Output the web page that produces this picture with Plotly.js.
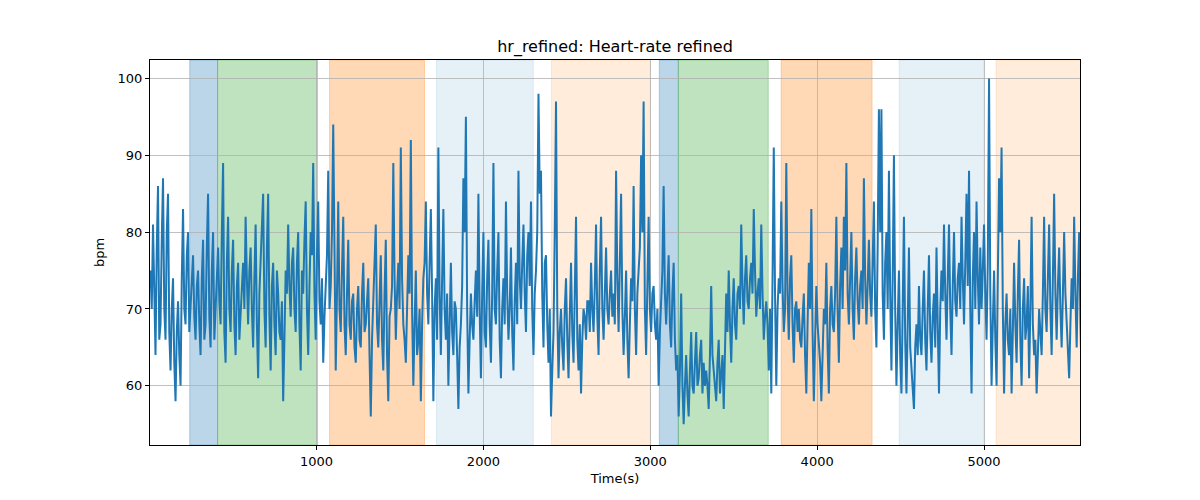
<!DOCTYPE html>
<html>
<head>
<meta charset="utf-8">
<script src="https://cdn.plot.ly/plotly-3.0.1.min.js"></script>
<style>html,body{margin:0;padding:0;background:#fff;}#chart{width:1200px;height:500px;}</style>
</head>
<body>
<div id="chart"></div>
<script>
// Heart-rate readings (bpm): local peaks/troughs every 15 s
const sampleStart = 5;
const sampleStep = 15;
const hrValues = [
75,81,64,86,68,87,66,85,62,74,58,71,60,83,68,80,70,77,66,75,64,79,68,85,65,80,70,78,68,89,63,82,67,79,64,76,70,
76,82,68,78,65,81,61,76,85,65,85,62,76,64,72,66,58,75,81,69,78,67,80,62,72,84,64,80,89,66,84,68,63,74,88,73,94,
62,84,67,82,64,79,66,72,63,73,65,76,68,74,56,71,81,65,77,62,79,58,70,89,66,76,91,68,63,77,92,60,75,66,58,74,84,
68,83,58,74,91,64,83,66,60,76,64,70,57,68,87,95,59,72,66,75,85,61,80,65,79,63,89,68,80,61,74,84,66,78,62,76,88,
70,81,67,80,84,64,75,98,88,65,77,63,56,67,97,61,70,62,74,61,76,63,82,62,59,70,66,71,76,67,81,64,82,66,78,68,75,
72,88,67,85,64,75,61,74,86,64,75,90,97,64,82,67,73,66,60,72,86,68,77,65,76,62,56,72,55,64,56,67,59,67,61,66,63,
62,57,73,62,58,66,61,57,72,75,63,74,66,73,81,68,77,70,76,83,69,74,81,66,71,62,59,91,60,74,84,67,89,66,77,63,71,
70,65,72,59,76,83,58,73,66,58,70,76,59,73,67,82,63,78,82,89,68,80,66,78,68,75,87,68,79,69,84,65,96,96,66,80,88,
62,90,60,75,59,82,59,78,62,57,68,73,64,75,62,77,63,72,78,59,75,81,66,81,64,80,69,76,82,68,85,88,59,80,84,68,
70,81,66,100,60,75,60,87,91,59,72,64,59,76,63,79,60,74,68,61,82,64,59,70,64,82,67,81,64,85,66,78,65,80,68,61,74,82,65,80,61
];
// Readings of the dense core band, half-way between the samples above
const hrMid = [
70,72,78,66,79,70,80,67,70,63,67,64,74,70,77,67,74,69,73,68,74,66,78,69,75,66,76,71,80,67,76,70,75,68,73,66,74,
70,74,75,70,74,68,72,79,70,78,69,73,68,75,67,71,66,72,73,76,70,76,68,75,79,70,73,77,72,77,71,74,69,77,70,80,75,
72,70,75,68,72,68,71,65,70,66,72,67,71,64,66,74,68,71,66,72,64,69,73,74,72,70,74,66,70,72,70,68,64,70,68,76,72,
76,72,70,66,72,74,70,72,68,67,71,64,65,73,80,70,66,68,71,69,70,72,67,74,68,72,70,75,66,70,68,72,70,67,71,68,74,
76,72,77,73,70,72,80,85,72,76,68,70,62,80,70,67,65,70,66,69,67,72,66,68,66,69,71,67,70,73,69,75,70,72,70,72,69,
68,74,76,70,69,66,68,71,70,72,78,80,70,75,70,72,68,70,67,75,72,73,68,72,66,64,62,60,60,59,62,60,63,60,64,59,60,
60,64,64,60,63,59,64,66,67,68,70,68,72,70,73,74,71,74,72,75,72,70,72,69,68,70,74,72,70,72,73,70,72,74,68,70,67,
66,69,64,68,70,67,66,68,63,66,68,65,70,68,72,70,73,70,75,72,74,70,74,71,73,70,74,73,72,76,70,78,80,72,76,70,72,
74,70,68,64,70,66,68,65,60,65,64,66,70,66,70,67,69,65,68,70,71,72,74,70,73,71,74,70,74,76,73,70,74,70,74,78,
75,72,76,72,68,66,74,80,70,68,66,70,67,68,72,66,70,66,73,70,68,66,64,67,72,70,74,70,74,72,73,70,72,72,66,68,70,72,74,68,70
];

// Shaded phases [start, end, colour]
const phaseStarts = [240, 407, 1078, 1719, 2407, 3054, 3168, 3784, 4491, 5072];
const phaseEnds   = [407, 1006, 1647, 2299, 3000, 3168, 3707, 4329, 5000, 5600];
const phaseColors = [
  'rgba(31,119,180,0.3)', 'rgba(44,160,44,0.3)', 'rgba(255,127,14,0.3)',
  'rgba(31,119,180,0.11)', 'rgba(255,127,14,0.15)',
  'rgba(31,119,180,0.3)', 'rgba(44,160,44,0.3)', 'rgba(255,127,14,0.3)',
  'rgba(31,119,180,0.11)', 'rgba(255,127,14,0.15)'
];
const xTicks = [1000, 2000, 3000, 4000, 5000];
const yTicks = [60, 70, 80, 90, 100];

// interleave the two reading sets on the time axis
const timeValues = [];
const hrSeries = [];
hrValues.forEach((v, i) => {
  timeValues.push(sampleStart + i * sampleStep);
  hrSeries.push(v);
  if (i < hrMid.length) {
    timeValues.push(sampleStart + i * sampleStep + sampleStep / 2);
    hrSeries.push(hrMid[i]);
  }
});

const shapes = phaseStarts.map((s, i) => ({
  type: 'rect', xref: 'x', yref: 'paper', x0: s, x1: phaseEnds[i], y0: 0, y1: 1,
  fillcolor: phaseColors[i], line: {color: phaseColors[i], width: 1}, layer: 'below'
}));

const trace = {
  x: timeValues, y: hrSeries, type: 'scatter', mode: 'lines',
  line: {color: '#1f77b4', width: 2}, hoverinfo: 'skip'
};

const font = {family: 'DejaVu Sans, sans-serif', size: 13, color: '#000'};
const layout = {
  width: 1200, height: 500,
  margin: {l: 150, r: 120, t: 60, b: 55},
  paper_bgcolor: '#fff', plot_bgcolor: 'rgba(0,0,0,0)',
  font: font,
  showlegend: false,
  title: {text: 'hr_refined: Heart-rate refined', font: {family: 'DejaVu Sans, sans-serif', size: 16, color: '#000'},
          x: 0.5125, xanchor: 'center', y: 0.908, yanchor: 'middle'},
  xaxis: {
    range: [2, 5575], tickvals: xTicks, ticktext: xTicks.map(String),
    showgrid: true, gridcolor: '#b0b0b0', gridwidth: 0.8,
    showline: true, linecolor: '#000', linewidth: 1, mirror: true,
    ticks: 'outside', ticklen: 4, tickcolor: '#000', zeroline: false,
    title: {text: 'Time(s)', font: font, standoff: 6}
  },
  yaxis: {
    range: [52.3, 102.4], tickvals: yTicks, ticktext: yTicks.map(String),
    showgrid: true, gridcolor: '#b0b0b0', gridwidth: 0.8,
    showline: true, linecolor: '#000', linewidth: 1, mirror: true,
    ticks: 'outside', ticklen: 4, tickcolor: '#000', zeroline: false,
    title: {text: 'bpm', font: font, standoff: 10}
  },
  shapes: shapes
};

Plotly.newPlot('chart', [trace], layout, {staticPlot: true, displayModeBar: false});
</script>
</body>
</html>
